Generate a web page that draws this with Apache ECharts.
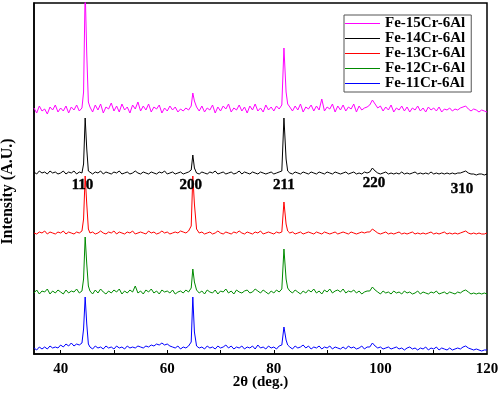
<!DOCTYPE html>
<html>
<head>
<meta charset="utf-8">
<script src="https://cdn.jsdelivr.net/npm/echarts@6/dist/echarts.min.js"></script>
<style>
  html, body { margin: 0; padding: 0; background: #fff; }
  #chart { width: 498px; height: 393px; }
</style>
</head>
<body>
<div id="chart"></div>
<script>
// 2theta sampling positions, shared by every pattern
const twoTheta = [
  35, 35.5, 36, 36.5, 37, 37.5, 38, 38.5, 39, 39.5, 40, 40.5, 41, 41.5, 42, 42.5, 43, 43.5, 44,
  44.3, 44.6, 44.9, 45.2,
  45.5, 46, 46.5, 47, 47.5, 48, 48.5, 49, 49.5, 50, 50.5, 51, 51.5, 52, 52.5, 53, 53.5, 54, 54.5, 55,
  55.5, 56, 56.5, 57, 57.5, 58, 58.5, 59, 59.5, 60, 60.5, 61, 61.5, 62, 62.5, 63, 63.5, 64, 64.5,
  64.8, 65.1,
  65.5, 66, 66.5, 67, 67.5, 68, 68.5, 69, 69.5, 70, 70.5, 71, 71.5, 72, 72.5, 73, 73.5, 74, 74.5, 75,
  75.5, 76, 76.5, 77, 77.5, 78, 78.5, 79, 79.5, 80, 80.5, 81, 81.5,
  81.9, 82.3, 82.6,
  83, 83.5, 84, 84.5, 85, 85.5, 86, 86.5, 87, 87.5, 88, 88.5, 89, 89.5, 90, 90.5, 91, 91.5, 92, 92.5,
  93, 93.5, 94, 94.5, 95, 95.5, 96, 96.5, 97, 97.5, 98, 98.5, 99, 99.5, 100, 100.5, 101, 101.5, 102, 102.5,
  103, 103.5, 104, 104.5, 105, 105.5, 106, 106.5, 107, 107.5, 108, 108.5, 109, 109.5, 110, 110.5, 111, 111.5,
  112, 112.5, 113, 113.5, 114, 114.5, 115, 115.5, 116, 116.5, 117, 117.5, 118, 118.5, 119, 119.5, 120
]

// intensities (arbitrary units, already offset for stacking)
const fe15 = [
  246, 241, 248, 243, 245, 240, 247, 244, 249, 242, 246, 243, 248, 241, 247, 244, 249, 243, 246,
  262, 365, 300, 252,
  247, 242, 249, 244, 250, 241, 247, 245, 251, 243, 248, 242, 250, 244, 247, 241, 249, 245, 252, 243,
  248, 244, 250, 242, 247, 245, 249, 241, 246, 243, 248, 244, 247, 242, 245, 243, 246, 244, 248,
  261, 253,
  247, 243, 248, 242, 246, 244, 249, 241, 247, 243, 248, 245, 250, 242, 246, 244, 249, 243, 247, 241,
  248, 244, 250, 243, 246, 242, 249, 244, 247, 243, 248, 245, 249,
  306, 262, 250,
  247, 243, 248, 244, 250, 242, 247, 245, 249, 243, 248, 244, 255, 243, 247, 245, 250, 242, 248, 244,
  249, 243, 247, 245, 250, 242, 248, 244, 246, 247, 249, 254, 250, 246, 248, 243, 247, 244, 249, 242,
  246, 244, 248, 243, 247, 242, 246, 244, 248, 243, 246, 242, 247, 244, 246, 243, 247, 242, 245, 244,
  246, 243, 245, 244, 246, 247, 248, 245, 243, 245, 244, 242, 244, 243, 242
]
const fe14 = [
  182, 180, 183, 181, 182, 180, 183, 181, 182, 180, 181, 183, 180, 182, 181, 183, 180, 182, 181,
  190, 236, 205, 183,
  181, 180, 182, 181, 183, 180, 182, 181, 180, 182, 181, 183, 180, 181, 182, 180, 181, 183, 181, 180,
  182, 181, 180, 182, 181, 180, 182, 181, 183, 180, 181, 182, 180, 181, 182, 180, 181, 182, 184,
  199, 186,
  181, 180, 182, 181, 180, 182, 181, 183, 180, 181, 182, 180, 181, 182, 180, 181, 183, 180, 182, 181,
  180, 182, 181, 180, 182, 181, 180, 181, 182, 180, 181, 182, 183,
  236, 195, 183,
  181, 180, 182, 181, 180, 182, 181, 180, 182, 181, 180, 182, 181, 180, 182, 181, 180, 182, 181, 180,
  181, 182, 180, 181, 182, 180, 181, 180, 182, 181, 182, 186, 183, 181, 180, 181, 182, 180, 181, 180,
  181, 180, 182, 180, 181, 180, 181, 182, 180, 181, 180, 181, 180, 182, 180, 181, 180, 181, 180, 181,
  180, 181, 180, 181, 181, 182, 183, 181, 180, 180, 179, 180, 180, 179, 180
]
const fe13 = [
  121, 120, 122, 121, 123, 120, 122, 121, 120, 122, 121, 123, 120, 122, 121, 120, 122, 121, 123,
  135, 178, 150, 125,
  121, 122, 120, 121, 123, 121, 120, 122, 121, 123, 120, 122, 121, 120, 122, 121, 123, 120, 121, 122,
  121, 120, 123, 121, 122, 120, 121, 123, 121, 122, 120, 121, 122, 121, 123, 122, 121, 123, 128,
  178, 150,
  125, 121, 122, 120, 121, 122, 120, 121, 123, 121, 120, 122, 121, 120, 122, 121, 123, 121, 120, 122,
  121, 120, 122, 121, 123, 120, 121, 122, 121, 120, 122, 121, 122,
  152, 130, 123,
  121, 122, 120, 121, 122, 120, 121, 122, 121, 120, 122, 121, 120, 122, 121, 120, 121, 122, 120, 121,
  122, 121, 120, 122, 121, 120, 121, 122, 121, 122, 122, 125, 123, 121, 120, 121, 122, 120, 121, 120,
  121, 122, 120, 121, 120, 121, 122, 120, 121, 120, 121, 120, 121, 122, 120, 121, 120, 121, 122, 120,
  121, 120, 121, 120, 121, 122, 123, 121, 120, 121, 120, 121, 120, 120, 121
]
const fe12 = [
  61, 64, 60, 63, 62, 65, 60, 63, 61, 64, 62, 60, 64, 61, 63, 62, 65, 61, 63,
  75, 117, 90, 68,
  63, 60, 64, 61, 65, 62, 60, 63, 61, 64, 62, 65, 60, 63, 61, 64, 62, 68, 61, 63,
  60, 64, 62, 65, 61, 63, 60, 64, 62, 63, 61, 64, 60, 62, 63, 61, 64, 62, 66,
  85, 72,
  64, 61, 63, 60, 64, 62, 61, 64, 60, 63, 62, 65, 61, 63, 60, 64, 62, 61, 63, 64,
  61, 62, 65, 63, 61, 64, 62, 60, 63, 61, 64, 62, 65,
  105, 75, 66,
  63, 61, 64, 62, 60, 63, 61, 64, 62, 65, 61, 63, 60, 64, 62, 65, 61, 63, 64, 62,
  65, 61, 63, 62, 64, 61, 63, 60, 62, 63, 63, 67, 64, 62, 60, 63, 61, 62, 60, 63,
  61, 62, 60, 63, 61, 62, 60, 61, 63, 60, 62, 61, 60, 62, 61, 63, 60, 61, 62, 60,
  62, 61, 60, 62, 61, 63, 64, 62, 60, 61, 60, 61, 60, 61, 60
]
const fe11 = [
  6, 4, 7, 5, 7, 5, 8, 6, 7, 6, 9, 7, 10, 8, 11, 8, 10, 9, 11,
  25, 57, 30, 10,
  7, 5, 8, 6, 7, 5, 8, 6, 7, 5, 8, 6, 7, 5, 8, 6, 7, 6, 8, 7,
  6, 8, 7, 9, 8, 10, 9, 11, 9, 10, 8, 7, 6, 8, 5, 7, 6, 8, 12,
  57, 22,
  8, 6, 7, 5, 8, 6, 7, 5, 8, 6, 7, 9, 6, 8, 5, 7, 6, 8, 5, 7,
  6, 8, 5, 9, 6, 7, 5, 8, 6, 7, 5, 8, 9,
  27, 14, 9,
  7, 5, 8, 6, 7, 9, 6, 8, 5, 7, 6, 8, 5, 7, 6, 8, 5, 7, 6, 5,
  7, 5, 8, 6, 7, 5, 6, 8, 5, 7, 7, 11, 8, 6, 7, 5, 6, 7, 5, 6,
  7, 5, 6, 4, 6, 7, 5, 6, 4, 6, 5, 7, 4, 6, 5, 7, 4, 6, 5, 4,
  6, 4, 5, 6, 5, 7, 8, 6, 5, 4, 5, 4, 3, 4, 4
]

const names = ["Fe-15Cr-6Al", "Fe-14Cr-6Al", "Fe-13Cr-6Al", "Fe-12Cr-6Al", "Fe-11Cr-6Al"]
const colors = ["#ff00ff", "#000000", "#ff0000", "#008a00", "#0000ff"]
const patterns = [fe15, fe14, fe13, fe12, fe11]

// reflection labels
const hklText = ["110", "200", "211", "220", "310"]
const hklX = [44.1, 64.4, 81.9, 98.8, 115.3]
const hklY = [169, 169, 169, 171, 165]

const xTicks = [40, 50, 60, 70, 80, 90, 100, 110]
const xLabels = [40, 60, 80, 100, 120]

const font = "Liberation Serif"

let myChart = echarts.init(document.getElementById("chart"))

let series = patterns.map((ys, k) => ({
    name: names[k],
    type: "line",
    symbol: "none",
    animation: false,
    color: colors[k],
    lineStyle: { width: 1, color: colors[k] },
    data: twoTheta.map((x, i) => [x, ys[i]])
}))

let option = {
    backgroundColor: "#fff",
    animation: false,
    grid: {
        left: 34,
        right: 11,
        top: 3,
        bottom: 39,
        outerBoundsMode: "none",
        show: true,
        borderColor: "#000",
        borderWidth: 1.5
    },
    legend: {
        data: names.map((n, k) => ({ name: n, itemStyle: { color: colors[k] } })),
        orient: "vertical",
        left: 344,
        top: 15,
        icon: "rect",
        itemWidth: 35,
        itemHeight: 1,
        itemGap: 0,
        padding: [1, 6, 1, 1],
        borderColor: "#555",
        borderWidth: 1,
        backgroundColor: "#fff",
        textStyle: {
            fontFamily: font,
            fontWeight: "bold",
            fontSize: 15,
            color: "#000",
            lineHeight: 15
        }
    },
    xAxis: {
        type: "value",
        min: 35,
        max: 120,
        name: "2θ (deg.)",
        nameLocation: "middle",
        nameGap: 21,
        nameMoveOverlap: false,
        nameTextStyle: {
            fontFamily: font,
            fontWeight: "bold",
            fontSize: 15,
            color: "#000"
        },
        axisLine: { lineStyle: { color: "#000", width: 1.5 } },
        axisTick: {
            inside: true,
            length: 4,
            customValues: xTicks,
            lineStyle: { color: "#000" }
        },
        axisLabel: {
            customValues: xLabels,
            margin: 8,
            fontFamily: font,
            fontWeight: "bold",
            fontSize: 15,
            color: "#000"
        },
        splitLine: { show: false }
    },
    yAxis: {
        type: "value",
        min: 0,
        max: 351,
        name: "Intensity (A.U.)",
        nameLocation: "middle",
        nameGap: 18,
        nameTextStyle: {
            fontFamily: font,
            fontWeight: "bold",
            fontSize: 16,
            color: "#000",
            padding: [0, 26, 0, 0]
        },
        axisLine: { show: true, lineStyle: { color: "#000", width: 1.5 } },
        axisTick: { show: false },
        axisLabel: { show: false },
        splitLine: { show: false }
    },
    series: series
}
myChart.setOption(option)

// hkl labels placed through the axes' scales
myChart.setOption({
    graphic: hklText.map((t, i) => {
        let pt = myChart.convertToPixel({ gridIndex: 0 }, [hklX[i], hklY[i]])
        return {
            type: "text",
            x: pt[0],
            y: pt[1],
            z: 100,
            silent: true,
            style: {
                text: t,
                fill: "#000",
                stroke: "#000",
                lineWidth: 0.4,
                fontFamily: font,
                fontWeight: "bold",
                fontSize: 15,
                align: "center",
                verticalAlign: "middle"
            }
        }
    })
})
</script>
</body>
</html>
